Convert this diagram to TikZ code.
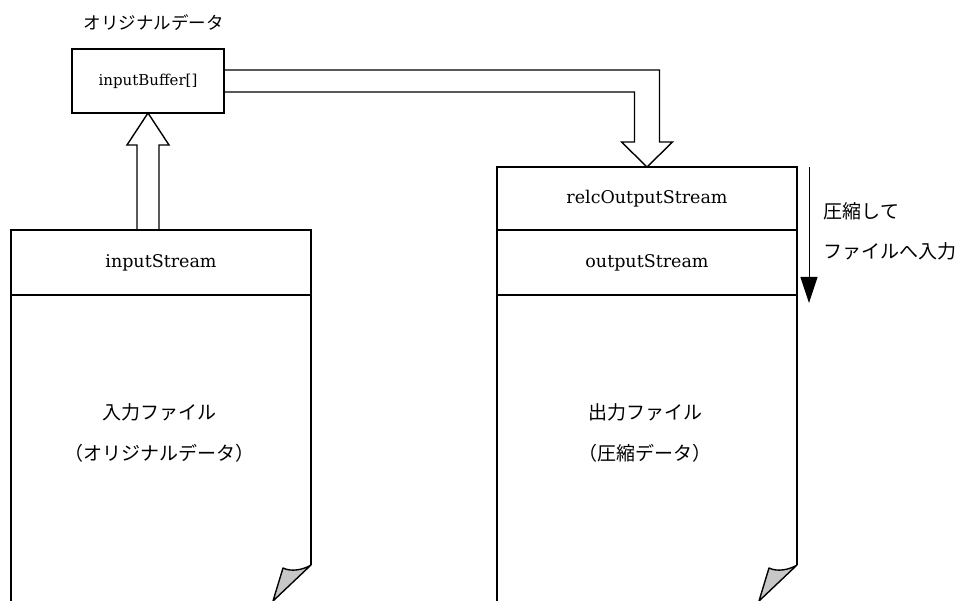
\documentclass[tikz,border=0pt]{standalone}
\usepackage{fontspec}
\newfontfamily\jp{Noto Sans CJK JP}
\newfontfamily\code{DejaVu Serif}
\usetikzlibrary{positioning,calc,arrows.meta}
\tikzstyle{bufferbox} = [draw, rectangle, outer sep=0pt, minimum width=152pt, minimum height=64pt, font=\code\fontsize{15}{18}\selectfont]
\tikzstyle{streambox} = [draw, rectangle, outer sep=0pt, minimum width=300pt, minimum height=65pt, font=\code\fontsize{17.5}{20}\selectfont]
\tikzstyle{jplabel} = [inner sep=0pt, font=\jp\fontsize{19}{22}\selectfont]
\tikzstyle{blockarrow} = [draw, line join=miter]
\tikzstyle{curl} = [draw, fill=black!22, line join=round]

\begin{document}
\begin{tikzpicture}[x=1pt,y=-1pt,line width=1.4pt]
\useasboundingbox (0,0) rectangle (961,601);
% buffer and the two files
\node[bufferbox] (buffer) at (148,81) {inputBuffer[]};
\node[streambox] (instream) at (161,262.5) {inputStream};
\node[streambox, minimum height=63pt] (relc) at (647,198.5) {relcOutputStream};
\node[streambox, below=0pt of relc] (outstream) {outputStream};
\node[jplabel, font=\jp\fontsize{17.5}{20}\selectfont, anchor=west] (title) at ($(buffer.north west)+(11,-26)$) {オリジナルデータ};
% file bodies with the folded corner
\foreach \f in {instream,outstream}{
  \draw (\f.south west) -- ++(0,306);
  \draw (\f.south east) -- ++(0,270) coordinate (corner);
  \draw[curl] (corner) .. controls ($(corner)+(-8,5)$) and ($(corner)+(-20,7)$) .. ($(corner)+(-28,3)$) -- ($(corner)+(-38,36)$) -- cycle;
}
\node[jplabel] (inlabel) at ($(instream.south)+(-2,117)$) {入力ファイル};
\node[jplabel] (inlabel2) at ($(inlabel)+(0,41)$) {（オリジナルデータ）};
\node[jplabel] (outlabel) at ($(outstream.south)+(-2,117)$) {出力ファイル};
\node[jplabel] (outlabel2) at ($(outlabel)+(0,41)$) {（圧縮データ）};
% block arrows
\draw[blockarrow] (buffer.south) -- ++(21,32) -- ++(-10,0) -- ++(0,85) -- ++(-22,0) -- ++(0,-85) -- ++(-10,0) -- cycle;
\draw[blockarrow] ($(buffer.east)+(0,-11)$) -| ($(relc.north)+(12.5,-25)$) -- ++(13,0) -- (relc.north) -- ++(-25.5,-25) -- ++(13,0) |- ($(buffer.east)+(0,11)$);
% compression direction
\coordinate (flowtop) at ($(relc.north east)+(12,0)$);
\coordinate (flowend) at ($(outstream.south east)+(12,8)$);
\draw[-{Triangle[width=17pt,length=26pt]}, line width=1pt] (flowtop) -- (flowend);
\node[jplabel, anchor=west] (compress) at ($(relc.east)+(26,12.5)$) {圧縮して};
\node[jplabel, anchor=west] (write) at ($(compress.west)+(0,40)$) {ファイルへ入力};
\end{tikzpicture}
\end{document}
